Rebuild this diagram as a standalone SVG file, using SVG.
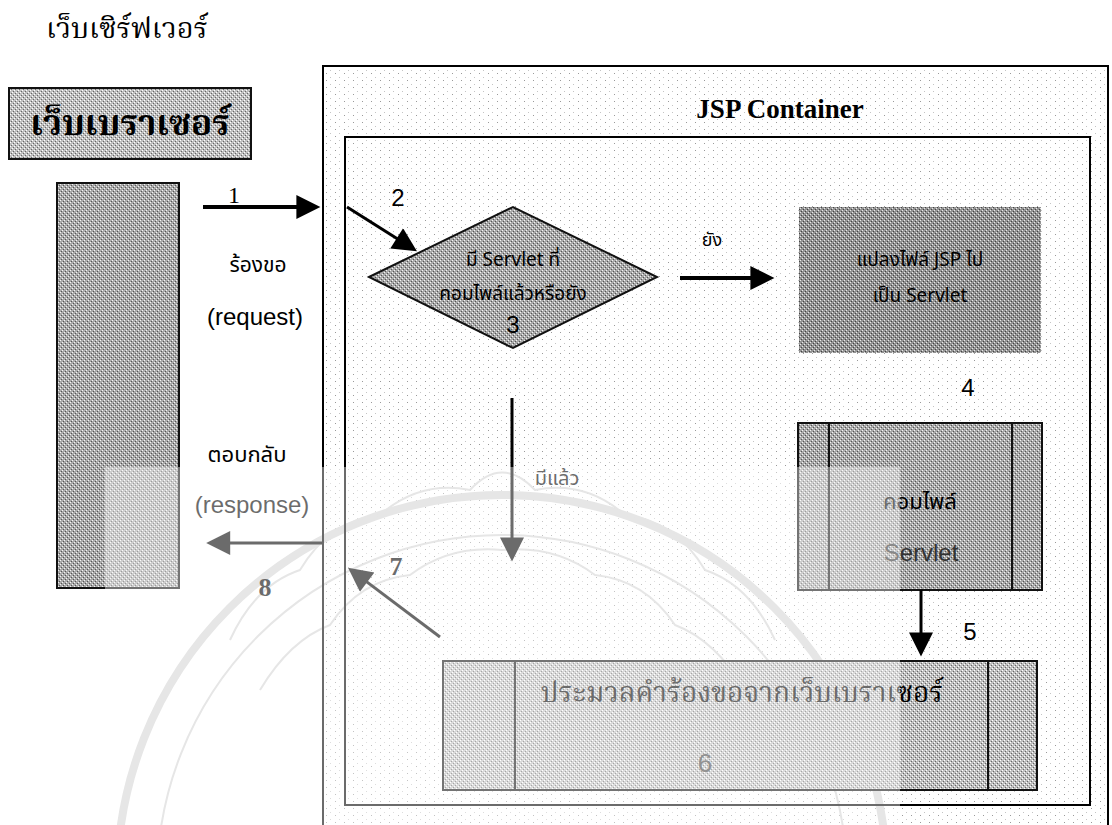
<svg xmlns="http://www.w3.org/2000/svg" width="1112" height="825" viewBox="0 0 1112 825">
  <style>
    .thS { font-family: "Noto Serif Thai", "Liberation Serif", "Noto Sans Thai", serif; }
    .th { font-family: "Noto Sans Thai", "Liberation Sans", "DejaVu Sans", sans-serif; }
    .sans { font-family: "Liberation Sans", Arial, sans-serif; }
    .serif { font-family: "Liberation Serif", "Times New Roman", serif; }
    .frame { fill: none; stroke: #000; stroke-width: 2; }
    .box { stroke: #111; stroke-width: 2; }
    .div { stroke: #111; stroke-width: 2; }
    .conn { stroke: #000; fill: none; }
    .seal { fill: none; stroke: #d4d4d4; }
  </style>
  <defs>
    <!-- sparse speckle for the container background -->
    <pattern id="speck" width="9" height="7" patternUnits="userSpaceOnUse">
      <rect width="9" height="7" fill="#fff"/>
      <rect x="2" y="3" width="1" height="1" fill="#9a9a9a"/>
      <rect x="6" y="0" width="1" height="1" fill="#c4c4c4"/>
    </pattern>
    <!-- halftone screens, light / medium / dark -->
    <pattern id="htL" width="4" height="4" patternUnits="userSpaceOnUse">
      <rect width="4" height="4" fill="#bfbfbf"/>
      <rect x="0" y="0" width="1" height="1" fill="#fff"/>
      <rect x="2" y="2" width="1" height="1" fill="#fff"/>
      <rect x="1" y="3" width="1" height="1" fill="#666"/>
      <rect x="3" y="1" width="1" height="1" fill="#666"/>
    </pattern>
    <pattern id="htM" width="4" height="4" patternUnits="userSpaceOnUse">
      <rect width="4" height="4" fill="#a9a9a9"/>
      <rect x="0" y="0" width="1" height="1" fill="#f4f4f4"/>
      <rect x="2" y="2" width="1" height="1" fill="#f4f4f4"/>
      <rect x="1" y="3" width="1" height="1" fill="#555"/>
      <rect x="3" y="1" width="1" height="1" fill="#555"/>
    </pattern>
    <pattern id="htD" width="4" height="4" patternUnits="userSpaceOnUse">
      <rect width="4" height="4" fill="#939393"/>
      <rect x="0" y="0" width="1" height="1" fill="#e8e8e8"/>
      <rect x="2" y="2" width="1" height="1" fill="#e8e8e8"/>
      <rect x="1" y="3" width="1" height="1" fill="#444"/>
      <rect x="3" y="1" width="1" height="1" fill="#444"/>
    </pattern>
    <marker id="ah" viewBox="0 0 10 10" refX="4" refY="5" markerUnits="userSpaceOnUse" markerWidth="26" markerHeight="24" orient="auto">
      <path d="M0,0 L10,5 L0,10 z" fill="#000"/>
    </marker>
  </defs>

  <rect width="1112" height="825" fill="#fff"/>

  <!-- page heading -->
  <text class="thS" x="46" y="38" font-size="29" fill="#000">เว็บเซิร์ฟเวอร์</text>

  <!-- web server / JSP container frames -->
  <g id="jsp-container">
    <rect x="323" y="66" width="785" height="780" fill="url(#speck)"/>
  </g>

  <!-- faint seal lines behind the drawing -->
  <g id="seal">
    <circle class="seal" cx="502" cy="880" r="385" stroke-width="8"/>
    <circle class="seal" cx="502" cy="880" r="345" stroke-width="2"/>
    <path class="seal" stroke-width="2" d="M230,640 Q255,585 300,570 Q330,520 380,515 Q420,480 470,490 Q502,455 535,490 Q585,480 625,515 Q675,520 705,570 Q750,585 775,640"/>
    <path class="seal" stroke-width="2" d="M260,690 Q290,640 330,625 Q360,580 410,575 Q450,545 502,550 Q555,545 595,575 Q645,580 675,625 Q715,640 745,690"/>
  </g>

  <g id="jsp-frames">
    <path class="frame" d="M323,825 V66 H1108 V825"/>
    <rect class="frame" x="345" y="137" width="745" height="668"/>
    <text class="serif" x="780" y="118" font-size="27" font-weight="bold" text-anchor="middle">JSP  Container</text>
  </g>

  <!-- browser -->
  <g id="browser-label">
    <rect class="box" x="9" y="88" width="242" height="71" fill="url(#htL)"/>
    <text class="thS" x="130" y="135" font-size="35" font-weight="bold" text-anchor="middle">เว็บเบราเซอร์</text>
  </g>
  <g id="browser">
    <rect class="box" x="57" y="183" width="122" height="405" fill="url(#htM)"/>
  </g>

  <!-- step 3: decision -->
  <g id="decision">
    <polygon class="box" points="369,277 513,207 657,277 513,348" fill="url(#htM)"/>
    <text class="th" x="513" y="266" font-size="19" text-anchor="middle">มี Servlet ที่</text>
    <text class="th" x="513" y="300" font-size="19" text-anchor="middle">คอมไพล์แล้วหรือยัง</text>
    <text class="sans" x="513" y="333" font-size="24" text-anchor="middle">3</text>
  </g>

  <!-- step 4: translate JSP -->
  <g id="translate">
    <rect x="799" y="207" width="242" height="146" fill="url(#htD)"/>
    <text class="th" x="920" y="266" font-size="19" text-anchor="middle">แปลงไฟล์ JSP ไป</text>
    <text class="th" x="920" y="302" font-size="19" text-anchor="middle">เป็น Servlet</text>
    <text class="sans" x="968" y="396" font-size="24" text-anchor="middle">4</text>
  </g>

  <!-- compile servlet -->
  <g id="compile">
    <rect class="box" x="798" y="423" width="244" height="167" fill="url(#htM)"/>
    <line class="div" x1="829" y1="423" x2="829" y2="590"/>
    <line class="div" x1="1012" y1="423" x2="1012" y2="590"/>
    <text class="th" x="920" y="509" font-size="22" text-anchor="middle">คอมไพล์</text>
    <text class="sans" x="921" y="561" font-size="24" text-anchor="middle" fill="#333">Servlet</text>
  </g>

  <!-- step 6: process request -->
  <g id="process">
    <rect class="box" x="443" y="661" width="594" height="129" fill="url(#htL)"/>
    <line class="div" x1="515" y1="661" x2="515" y2="790"/>
    <line class="div" x1="988" y1="661" x2="988" y2="790"/>
    <text class="thS" x="742" y="702" font-size="28" text-anchor="middle">ประมวลคำร้องขอจากเว็บเบราเซอร์</text>
    <text class="sans" x="705" y="772" font-size="26" text-anchor="middle" fill="#444">6</text>
  </g>

  <!-- connectors -->
  <g id="connectors">
    <line class="conn" x1="203" y1="207" x2="306" y2="207" stroke-width="4" marker-end="url(#ah)"/>
    <line class="conn" x1="347" y1="207" x2="404.8" y2="243.6" stroke-width="3" marker-end="url(#ah)"/>
    <line class="conn" x1="680" y1="278" x2="760" y2="278" stroke-width="4" marker-end="url(#ah)"/>
    <line class="conn" x1="512" y1="398" x2="512" y2="547" stroke-width="3" marker-end="url(#ah)"/>
    <line class="conn" x1="921" y1="590" x2="921" y2="642" stroke-width="3" marker-end="url(#ah)"/>
    <line class="conn" x1="440" y1="637" x2="359.5" y2="576.4" stroke-width="3" marker-end="url(#ah)"/>
    <line class="conn" x1="322" y1="543" x2="220.6" y2="543" stroke-width="3" marker-end="url(#ah)"/>
  </g>

  <!-- connector labels -->
  <g id="labels">
    <text class="serif" x="228" y="203" font-size="24">1</text>
    <text class="th" x="258" y="272" font-size="21" text-anchor="middle">ร้องขอ</text>
    <text class="sans" x="255" y="325" font-size="24" text-anchor="middle">(request)</text>
    <text class="sans" x="398" y="206" font-size="24" text-anchor="middle">2</text>
    <text class="th" x="712" y="246" font-size="18" text-anchor="middle">ยัง</text>
    <text class="th" x="557" y="485" font-size="20" text-anchor="middle">มีแล้ว</text>
    <text class="th" x="247" y="462" font-size="22" text-anchor="middle">ตอบกลับ</text>
    <text class="sans" x="252" y="513" font-size="24" text-anchor="middle">(response)</text>
    <text class="sans" x="970" y="640" font-size="24" text-anchor="middle">5</text>
    <text class="serif" x="396" y="575" font-size="26" font-weight="bold" text-anchor="middle">7</text>
    <text class="serif" x="265" y="596" font-size="26" font-weight="bold" text-anchor="middle">8</text>
  </g>

  <!-- lighter print over the lower left part of the page -->
  <rect id="fade" x="105" y="467" width="795" height="358" fill="#fff" opacity="0.42"/>
</svg>
